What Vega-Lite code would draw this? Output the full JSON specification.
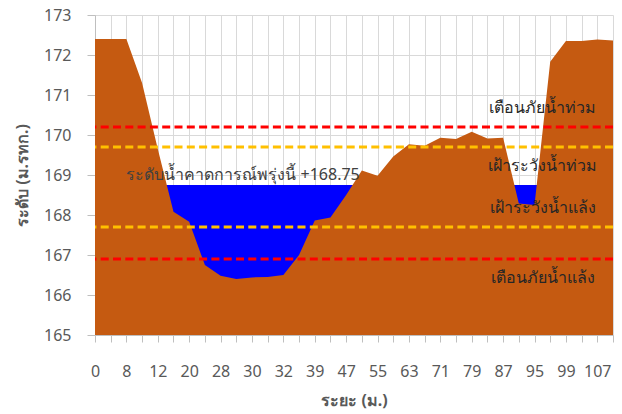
{
  "$schema": "https://vega.github.io/schema/vega-lite/v6.json",
  "width": 518,
  "height": 320,
  "autosize": {"type": "none"},
  "padding": {"left": 95, "top": 15, "right": 9, "bottom": 79},
  "config": {
    "view": {"stroke": null},
    "font": "Noto Sans",
    "axis": {
      "labelFont": "Noto Sans",
      "titleFont": "Noto Sans",
      "labelFontSize": 16,
      "titleFontSize": 16,
      "labelColor": "#595959",
      "titleColor": "#595959",
      "titleFontWeight": "bold",
      "gridColor": "#d9d9d9",
      "gridWidth": 1,
      "domainColor": "#bfbfbf",
      "tickColor": "#bfbfbf"
    }
  },
  "datasets": {
    "profile": [
      {"dist": 0, "elev": 172.4, "water": 168.75},
      {"dist": 4, "elev": 172.4, "water": 168.75},
      {"dist": 8, "elev": 172.4, "water": 168.75},
      {"dist": 10, "elev": 171.3, "water": 168.75},
      {"dist": 12, "elev": 169.65, "water": 168.75},
      {"dist": 16, "elev": 168.08, "water": 168.75},
      {"dist": 20, "elev": 167.83, "water": 168.75},
      {"dist": 24, "elev": 166.75, "water": 168.75},
      {"dist": 28, "elev": 166.48, "water": 168.75},
      {"dist": 29, "elev": 166.4, "water": 168.75},
      {"dist": 30, "elev": 166.44, "water": 168.75},
      {"dist": 31, "elev": 166.45, "water": 168.75},
      {"dist": 32, "elev": 166.5, "water": 168.75},
      {"dist": 35, "elev": 167.0, "water": 168.75},
      {"dist": 39, "elev": 167.86, "water": 168.75},
      {"dist": 43, "elev": 167.94, "water": 168.75},
      {"dist": 47, "elev": 168.5, "water": 168.75},
      {"dist": 51, "elev": 169.11, "water": 168.75},
      {"dist": 55, "elev": 168.98, "water": 168.75},
      {"dist": 59, "elev": 169.46, "water": 168.75},
      {"dist": 63, "elev": 169.77, "water": 168.75},
      {"dist": 67, "elev": 169.73, "water": 168.75},
      {"dist": 71, "elev": 169.93, "water": 168.75},
      {"dist": 75, "elev": 169.9, "water": 168.75},
      {"dist": 79, "elev": 170.08, "water": 168.75},
      {"dist": 83, "elev": 169.91, "water": 168.75},
      {"dist": 87, "elev": 169.93, "water": 168.75},
      {"dist": 91, "elev": 168.29, "water": 168.75},
      {"dist": 95, "elev": 168.25, "water": 168.75},
      {"dist": 97, "elev": 171.83, "water": 168.75},
      {"dist": 99, "elev": 172.35, "water": 168.75},
      {"dist": 103, "elev": 172.35, "water": 168.75},
      {"dist": 107, "elev": 172.39, "water": 168.75},
      {"dist": 111, "elev": 172.36, "water": 168.75}
    ],
    "levels": [
      {"name": "เตือนภัยน้ำท่วม", "level": 170.2, "kind": "warn", "side": "above"},
      {"name": "เฝ้าระวังน้ำท่วม", "level": 169.7, "kind": "watch", "side": "below"},
      {"name": "เฝ้าระวังน้ำแล้ง", "level": 167.7, "kind": "watch", "side": "above"},
      {"name": "เตือนภัยน้ำแล้ง", "level": 166.9, "kind": "warn", "side": "below"}
    ],
    "forecast": [
      {"label": "ระดับน้ำคาดการณ์พรุ่งนี้ +168.75", "level": 168.75}
    ]
  },
  "encoding": {
    "y": {
      "type": "quantitative",
      "scale": {"domain": [165, 173], "zero": false, "nice": false},
      "axis": {
        "title": "ระดับ (ม.รทก.)",
        "values": [165, 166, 167, 168, 169, 170, 171, 172, 173],
        "labelOverlap": false,
        "labelSeparation": 0,
        "labelBound": false,
        "grid": true,
        "tickSize": 8,
        "labelPadding": 16,
        "titlePadding": 13
      }
    }
  },
  "layer": [
    {
      "data": {"name": "profile"},
      "mark": {"type": "area", "color": "#0000FF"},
      "encoding": {
        "x": {
          "field": "dist",
          "type": "ordinal",
          "scale": {"type": "point", "padding": 0},
          "axis": {
            "title": "ระยะ (ม.)",
            "labelAngle": 0,
            "grid": true,
            "ticks": true,
            "tickSize": 7,
            "labelPadding": 21,
            "titlePadding": 13,
            "labelOverlap": false,
            "labelExpr": "indexof([0,8,12,20,28,30,32,39,47,55,63,71,79,87,95,99,107], datum.value) >= 0 ? datum.label : ''"
          }
        },
        "y": {"field": "water"},
        "y2": {"datum": 165}
      }
    },
    {
      "data": {"name": "profile"},
      "mark": {"type": "area", "color": "#C55A11"},
      "encoding": {
        "x": {"field": "dist", "type": "ordinal"},
        "y": {"field": "elev"},
        "y2": {"datum": 165}
      }
    },
    {
      "data": {"name": "levels"},
      "mark": {"type": "rule", "strokeWidth": 3, "strokeDash": [8, 4.3]},
      "encoding": {
        "y": {"field": "level"},
        "color": {
          "field": "kind",
          "type": "nominal",
          "scale": {"domain": ["warn", "watch"], "range": ["#FF0000", "#FFC000"]},
          "legend": null
        }
      }
    },
    {
      "data": {"name": "levels"},
      "transform": [{"filter": "datum.side == 'above'"}],
      "mark": {"type": "text", "fontSize": 16, "color": "#262626", "align": "center", "baseline": "middle", "dx": 8, "dy": -19.5, "font": "Noto Sans"},
      "encoding": {
        "x": {"datum": 95, "type": "ordinal"},
        "y": {"field": "level"},
        "text": {"field": "name"}
      }
    },
    {
      "data": {"name": "levels"},
      "transform": [{"filter": "datum.side == 'below'"}],
      "mark": {"type": "text", "fontSize": 16, "color": "#262626", "align": "center", "baseline": "middle", "dx": 8, "dy": 18.5, "font": "Noto Sans"},
      "encoding": {
        "x": {"datum": 95, "type": "ordinal"},
        "y": {"field": "level"},
        "text": {"field": "name"}
      }
    },
    {
      "data": {"name": "forecast"},
      "mark": {"type": "text", "fontSize": 16, "color": "#404040", "align": "left", "baseline": "middle", "dy": -10, "font": "Noto Sans"},
      "encoding": {
        "x": {"datum": 8, "type": "ordinal"},
        "y": {"field": "level"},
        "text": {"field": "label"}
      }
    }
  ]
}
